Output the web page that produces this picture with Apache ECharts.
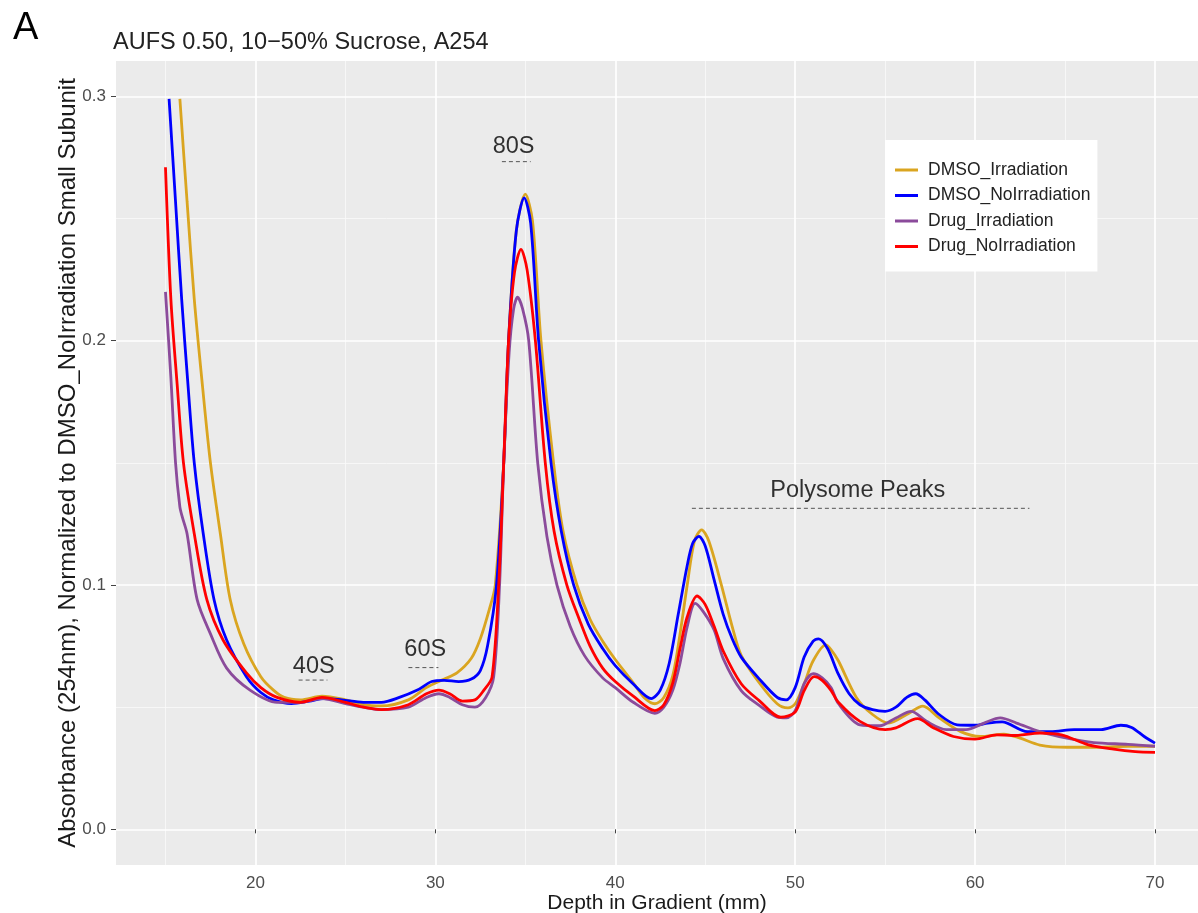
<!DOCTYPE html>
<html>
<head>
<meta charset="utf-8">
<script src="https://cdn.jsdelivr.net/npm/echarts@6/dist/echarts.min.js"></script>
<style>
html,body{margin:0;padding:0;background:#fff;}
#chart{width:1198px;height:913px;}
</style>
</head>
<body>
<div id="chart"></div>
<script>
// ---------------- data ----------------
const seriesNames = ['DMSO_Irradiation', 'DMSO_NoIrradiation', 'Drug_Irradiation', 'Drug_NoIrradiation'];
const seriesColors = ['#DAA520', '#0000FF', '#8B4B9B', '#FF0000'];

// [depth (mm), absorbance]
const dmsoIrradiation = [
  [15.8,0.299],[16.2,0.257],[16.6,0.217],[17.05,0.182],[17.5,0.150],[18.05,0.121],[18.6,0.094],
  [19.35,0.076],[20.3,0.0625],[21.0,0.057],[21.6,0.054],[22.5,0.053],[23.7,0.0545],[25.0,0.053],
  [26.0,0.051],[27.0,0.0505],[28.5,0.053],[29.5,0.058],[30.5,0.0615],[31.2,0.064],[32.0,0.070],
  [32.5,0.078],[33.0,0.090],[33.33,0.100],[33.8,0.150],[34.07,0.200],[34.5,0.245],[35.0,0.260],
  [35.4,0.249],[35.87,0.200],[36.57,0.150],[37.1,0.122],[37.87,0.100],[38.6,0.086],[39.3,0.077],
  [40.0,0.0695],[41.0,0.060],[41.6,0.054],[42.2,0.0514],[42.7,0.054],[43.2,0.063],[43.6,0.080],[44.0,0.100],
  [44.4,0.118],[44.8,0.1226],[45.2,0.118],[45.9,0.100],[46.5,0.083],[47.0,0.0712],[48.0,0.060],
  [49.0,0.0514],[49.6,0.0497],[50.0,0.0514],[50.5,0.0596],[51.0,0.069],[51.7,0.0755],[52.0,0.0735],
  [52.4,0.069],[53.4,0.054],[54.3,0.047],[55.2,0.0435],[56.2,0.047],[57.1,0.0504],[58.0,0.0456],
  [59.2,0.040],[60.3,0.038],[61.6,0.039],[62.5,0.0373],[63.6,0.0345],[65.1,0.0336],[67.0,0.0336],
  [68.5,0.034],[70.0,0.034]
];
const dmsoNoIrradiation = [
  [15.2,0.299],[15.55,0.258],[15.9,0.217],[16.25,0.182],[16.6,0.150],[17.1,0.121],[17.7,0.094],
  [18.4,0.0775],[19.5,0.0625],[20.3,0.056],[21.0,0.053],[22.0,0.0515],[23.0,0.0525],[23.8,0.0535],
  [24.8,0.053],[26.0,0.052],[27.0,0.052],[28.0,0.054],[29.0,0.057],[29.8,0.0605],[30.5,0.061],
  [31.3,0.0605],[32.0,0.0615],[32.5,0.065],[32.9,0.075],[33.4,0.100],[33.8,0.150],[34.07,0.200],
  [34.5,0.245],[34.94,0.2585],[35.3,0.248],[35.74,0.200],[36.43,0.150],[37.0,0.122],[37.69,0.100],
  [38.5,0.084],[39.3,0.074],[40.0,0.067],[41.0,0.0595],[42.0,0.0535],[42.5,0.057],[43.0,0.068],
  [43.5,0.088],[44.0,0.108],[44.3,0.117],[44.65,0.1199],[45.0,0.116],[45.5,0.102],[46.0,0.088],
  [46.5,0.078],[47.0,0.0705],[48.0,0.0616],[49.0,0.054],[49.5,0.053],[50.0,0.058],[50.5,0.0705],
  [51.0,0.077],[51.3,0.078],[51.8,0.074],[52.4,0.0635],[53.0,0.0555],[53.6,0.051],[54.3,0.049],
  [55.0,0.0483],[55.6,0.050],[56.2,0.054],[56.7,0.0555],[57.2,0.053],[58.0,0.047],[59.0,0.0428],
  [60.0,0.0426],[60.7,0.0435],[61.5,0.044],[62.9,0.040],[64.2,0.040],[65.5,0.0408],[67.0,0.0408],
  [68.1,0.0426],[68.7,0.0417],[69.4,0.038],[70.0,0.0353]
];
const drugIrradiation = [
  [15.0,0.220],[15.3,0.185],[15.56,0.150],[15.8,0.132],[15.93,0.128],[16.2,0.121],[16.76,0.094],
  [17.5,0.080],[18.4,0.066],[19.7,0.057],[21.2,0.052],[22.5,0.052],[23.7,0.0535],[25.0,0.0515],
  [26.0,0.050],[27.0,0.049],[28.5,0.050],[29.5,0.054],[30.2,0.0555],[30.8,0.054],[31.5,0.051],
  [32.2,0.050],[32.8,0.054],[33.24,0.0623],[33.57,0.100],[33.8,0.150],[34.1,0.195],[34.35,0.213],
  [34.57,0.2178],[34.85,0.213],[35.19,0.200],[35.69,0.150],[36.2,0.120],[36.76,0.100],[37.5,0.083],
  [38.3,0.071],[39.3,0.062],[40.0,0.058],[41.0,0.052],[42.2,0.0475],[42.7,0.050],[43.2,0.057],
  [43.6,0.068],[44.0,0.083],[44.44,0.0925],[44.9,0.089],[45.5,0.0815],[46.0,0.0699],[47.0,0.0568],
  [48.0,0.0507],[49.0,0.0459],[49.5,0.0456],[50.0,0.0486],[50.5,0.0596],[51.0,0.0637],[51.5,0.062],
  [52.0,0.058],[52.4,0.0515],[53.6,0.0428],[54.7,0.0424],[55.6,0.0456],[56.45,0.0483],[57.3,0.0442],
  [58.4,0.0408],[59.5,0.0408],[60.5,0.0435],[61.4,0.0456],[62.3,0.0435],[63.6,0.040],[65.1,0.0373],
  [66.6,0.0355],[68.5,0.0348],[70.0,0.034]
];
const drugNoIrradiation = [
  [15.0,0.271],[15.3,0.217],[15.65,0.182],[16.0,0.150],[16.6,0.121],[17.3,0.094],[18.2,0.0775],
  [19.5,0.064],[20.3,0.058],[21.2,0.054],[22.5,0.052],[23.7,0.054],[25.0,0.052],[26.0,0.050],
  [27.0,0.049],[28.5,0.051],[29.5,0.0555],[30.2,0.057],[30.8,0.0555],[31.5,0.0525],[32.2,0.053],
  [32.7,0.057],[33.15,0.0623],[33.52,0.100],[33.8,0.150],[34.07,0.200],[34.4,0.228],[34.76,0.2374],
  [35.1,0.229],[35.56,0.200],[36.11,0.150],[36.6,0.122],[37.31,0.100],[38.0,0.086],[38.6,0.075],
  [39.3,0.066],[40.0,0.0605],[41.0,0.0545],[42.2,0.0486],[42.7,0.051],[43.2,0.060],[43.6,0.074],
  [44.0,0.087],[44.55,0.0955],[45.0,0.092],[45.5,0.083],[46.0,0.073],[47.0,0.0596],[48.0,0.0527],
  [49.2,0.0459],[50.0,0.048],[50.5,0.0568],[51.05,0.0625],[51.5,0.061],[52.0,0.0568],[52.4,0.052],
  [53.6,0.0442],[55.0,0.0408],[55.6,0.0415],[56.8,0.0453],[57.7,0.0415],[58.8,0.038],[60.0,0.0369],
  [61.2,0.0387],[62.1,0.0384],[63.6,0.0394],[64.8,0.0387],[66.3,0.0346],[67.7,0.0328],[68.9,0.0318],
  [70.0,0.0315]
];
const seriesData = [dmsoIrradiation, dmsoNoIrradiation, drugIrradiation, drugNoIrradiation];

// tick values
const xMajorTicks = [20, 30, 40, 50, 60, 70];
const xMinorTicks = [15, 25, 35, 45, 55, 65];
const yMajorTicks = [0, 0.1, 0.2, 0.3];
const yMinorTicks = [0.05, 0.15, 0.25];

// peak annotations (data coordinates)
const annotationLabels = ['40S', '60S', '80S', 'Polysome Peaks'];
const annotationTextX = [23.24, 29.44, 34.35, 53.48];
const annotationTextY = [0.0668, 0.0734, 0.2797, 0.1385];
const annotationLineX0 = [22.4, 28.5, 33.7, 44.26];
const annotationLineX1 = [24.0, 30.17, 35.3, 63.02];
const annotationLineY = [0.0611, 0.0662, 0.2733, 0.1314];

const titleLetter = 'A';
const titleText = 'AUFS 0.50, 10\u221250% Sucrose, A254';
const xAxisName = 'Depth in Gradient (mm)';
const yAxisName = 'Absorbance (254nm), Normalized to DMSO_NoIrradiation Small Subunit';

// ---------------- chart ----------------
const FONT = '"Liberation Sans", Arial, Helvetica, sans-serif';
const chart = echarts.init(document.getElementById('chart'), null, {renderer: 'canvas'});

const X_MIN = 12.25, X_MAX = 72.39, Y_MIN = -0.0146, Y_MAX = 0.3145;

const series = [];
seriesNames.forEach((name, i) => {
  series.push({
    name: name,
    type: 'line',
    xAxisIndex: 0,
    yAxisIndex: 0,
    data: seriesData[i],
    showSymbol: false,
    symbol: 'none',
    smooth: 0.3,
    lineStyle: {color: seriesColors[i], width: 2.8},
    itemStyle: {color: seriesColors[i]},
    emphasis: {disabled: true},
    z: 3 + i
  });
});

annotationLabels.forEach((lab, i) => {
  series.push({
    name: 'annotLine' + i,
    type: 'line',
    data: [[annotationLineX0[i], annotationLineY[i]], [annotationLineX1[i], annotationLineY[i]]],
    showSymbol: false,
    symbol: 'none',
    lineStyle: {color: '#555', width: 1, type: [4, 3]},
    silent: true,
    z: 10
  });
});

series.push({
  name: 'annotText',
  type: 'scatter',
  symbolSize: 0,
  itemStyle: {color: 'rgba(0,0,0,0)'},
  silent: true,
  z: 11,
  data: annotationLabels.map((lab, i) => ({name: lab, value: [annotationTextX[i], annotationTextY[i]]})),
  label: {
    show: true,
    position: 'inside',
    formatter: '{b}',
    fontFamily: FONT,
    fontSize: 23.5,
    color: '#000'
  }
});

const option = {
  animation: false,
  backgroundColor: '#ffffff',
  textStyle: {fontFamily: FONT},
  title: [
    {text: titleLetter, left: 8, top: 5, textStyle: {fontFamily: FONT, fontSize: 38, fontWeight: 'normal', color: '#000'}},
    {text: titleText, left: 108, top: 26, textStyle: {fontFamily: FONT, fontSize: 23.5, fontWeight: 'normal', color: '#222'}}
  ],
  legend: {
    data: seriesNames,
    orient: 'vertical',
    left: 885,
    top: 140,
    backgroundColor: '#ffffff',
    padding: [21, 7, 16, 10],
    icon: 'rect',
    itemWidth: 23,
    itemHeight: 3,
    itemGap: 7.5,
    textStyle: {fontFamily: FONT, fontSize: 17.5, color: '#222', lineHeight: 17, padding: [0, 0, 0, 5]},
    selectedMode: false
  },
  grid: {
    left: 116, right: 0, top: 61, bottom: 48,
    show: true, backgroundColor: '#EBEBEB', borderWidth: 0,
    containLabel: false,
    outerBoundsMode: 'none'
  },
  xAxis: [
    {
      type: 'value', min: X_MIN, max: X_MAX, position: 'bottom',
      name: xAxisName, nameLocation: 'middle', nameGap: 28, nameMoveOverlap: false,
      nameTextStyle: {fontFamily: FONT, fontSize: 21, color: '#1a1a1a'},
      axisLine: {show: false},
      axisTick: {show: true, customValues: xMajorTicks, length: 4, lineStyle: {color: '#444', width: 1}},
      axisLabel: {customValues: xMajorTicks, fontFamily: FONT, fontSize: 17, color: '#4d4d4d', margin: 10},
      splitLine: {show: true, lineStyle: {color: '#ffffff', width: 1.7}},
      z: 2
    },
    {
      type: 'value', min: X_MIN, max: X_MAX, position: 'bottom',
      axisLine: {show: false},
      axisTick: {show: false, customValues: xMinorTicks},
      axisLabel: {show: false, customValues: xMinorTicks},
      splitLine: {show: true, lineStyle: {color: '#f8f8f8', width: 0.9}},
      z: 1
    }
  ],
  yAxis: [
    {
      type: 'value', min: Y_MIN, max: Y_MAX, position: 'left',
      name: yAxisName, nameLocation: 'middle', nameGap: 36, nameRotate: 90, nameMoveOverlap: false,
      nameTextStyle: {fontFamily: FONT, fontSize: 24, color: '#1a1a1a'},
      axisLine: {show: false},
      axisTick: {show: true, customValues: yMajorTicks, length: 5, lineStyle: {color: '#444', width: 1}},
      axisLabel: {customValues: yMajorTicks, fontFamily: FONT, fontSize: 17, color: '#4d4d4d', margin: 10,
                  formatter: v => Number(v).toFixed(1)},
      splitLine: {show: true, lineStyle: {color: '#ffffff', width: 1.7}},
      z: 2
    },
    {
      type: 'value', min: Y_MIN, max: Y_MAX, position: 'left',
      axisLine: {show: false},
      axisTick: {show: false, customValues: yMinorTicks},
      axisLabel: {show: false, customValues: yMinorTicks},
      splitLine: {show: true, lineStyle: {color: '#f8f8f8', width: 0.9}},
      z: 1
    }
  ],
  series: series
};

chart.setOption(option);
</script>
</body>
</html>
